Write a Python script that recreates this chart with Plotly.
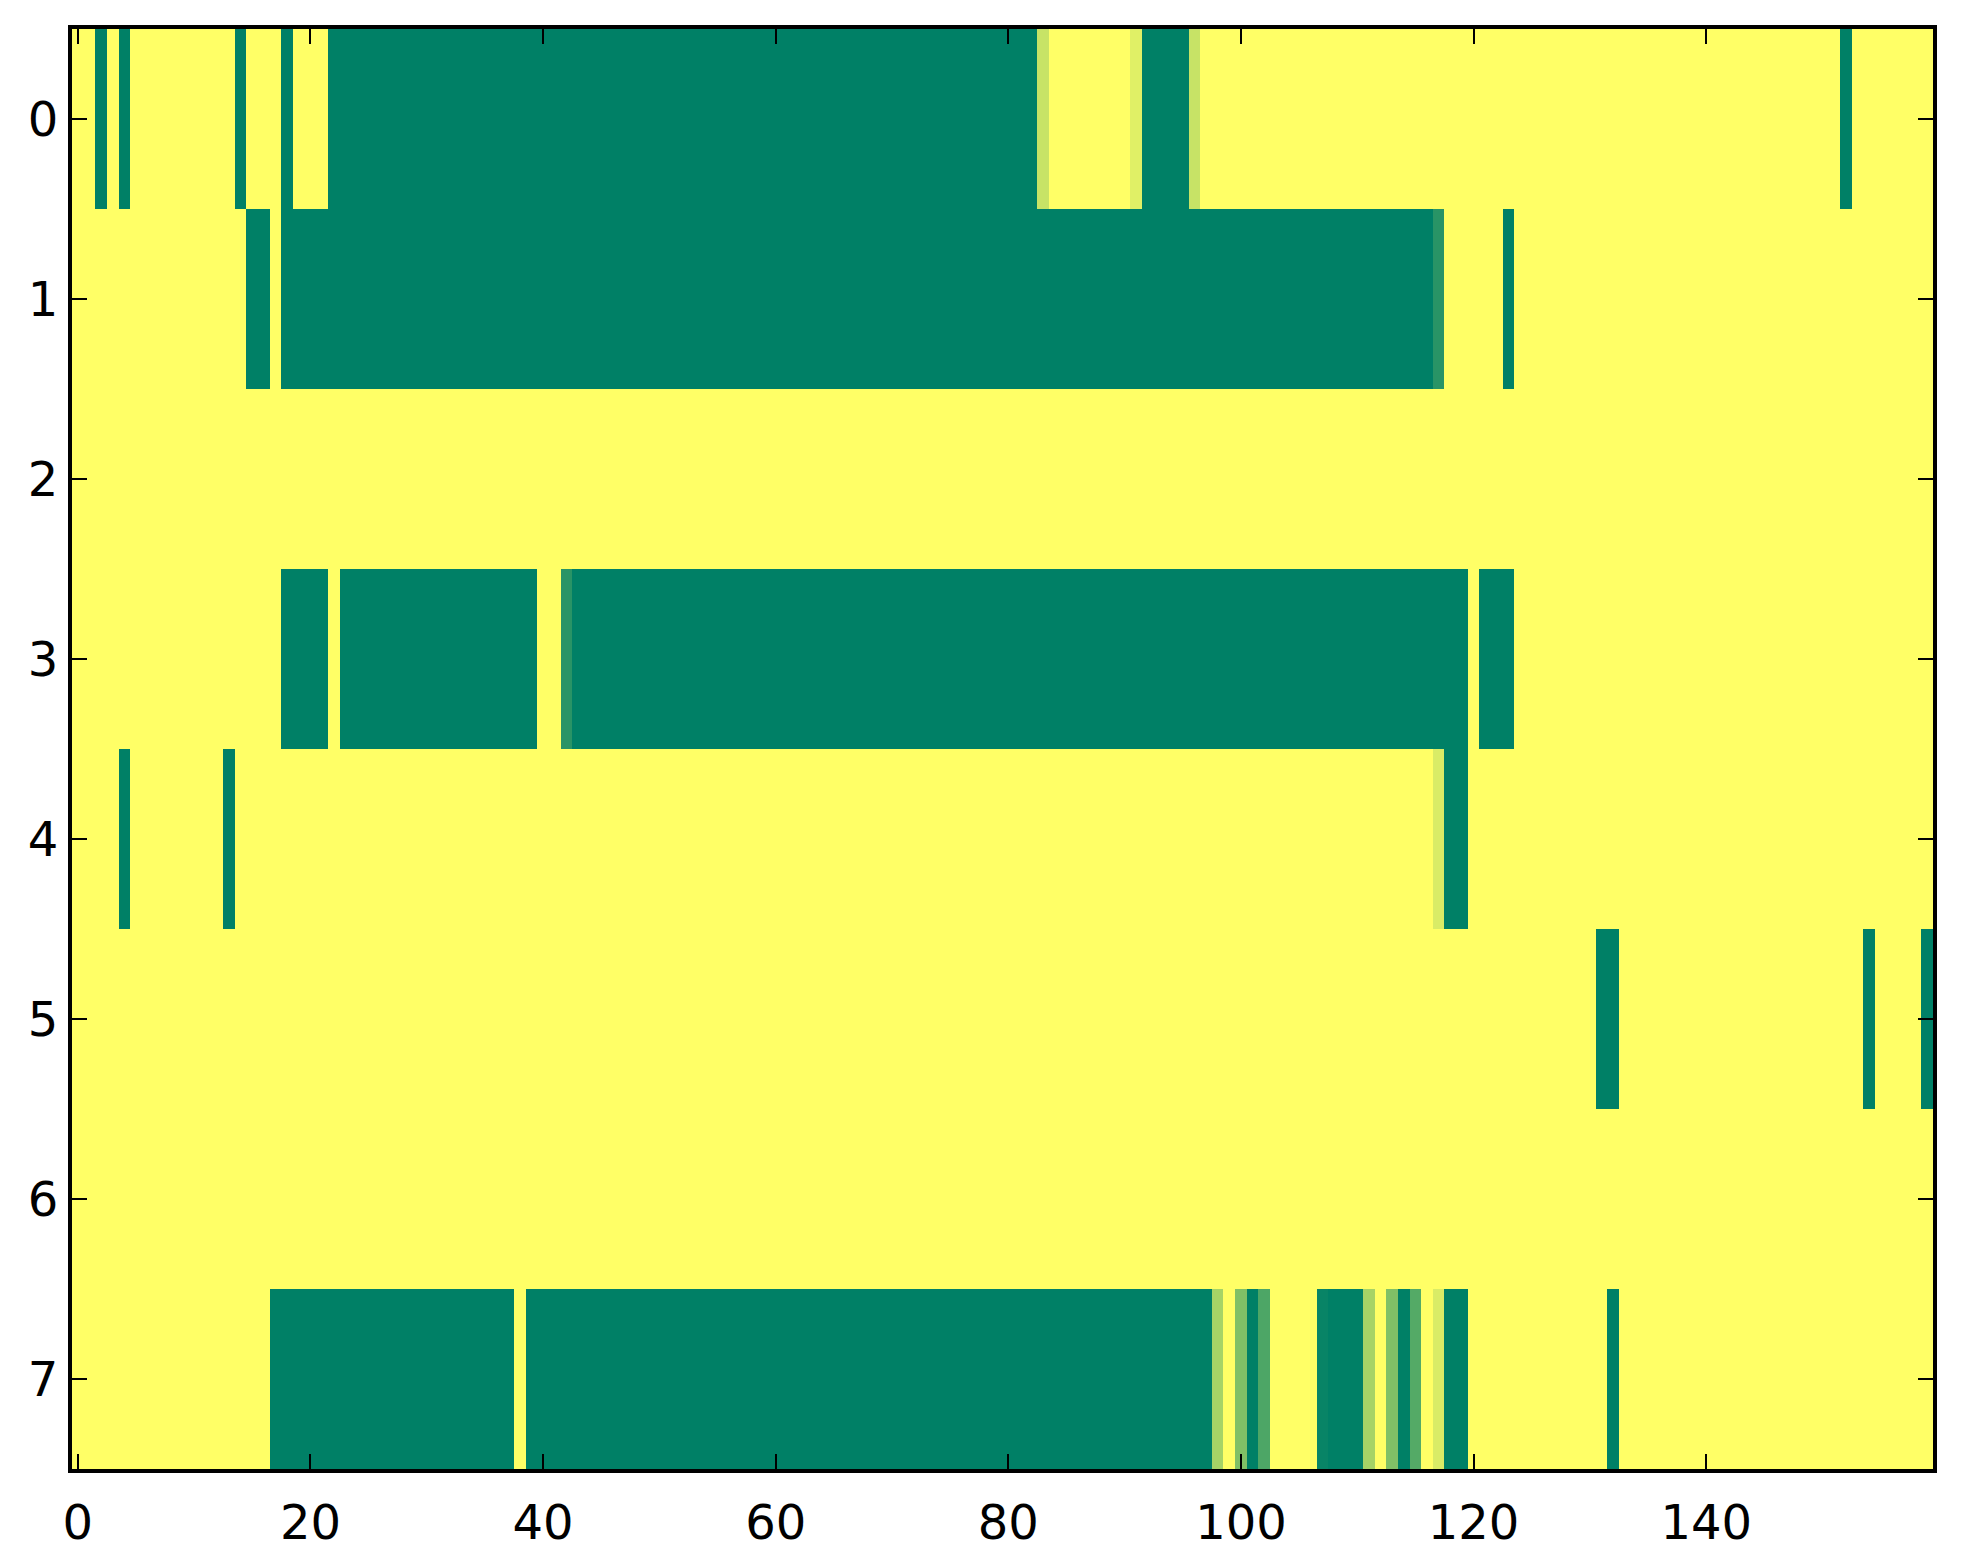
import numpy as np
import plotly.graph_objects as go

n_rows = 8
n_cols = 160
background_value = 1.0

# Non-yellow cells per row: (first_col, last_col, value)
row_0 = [(2, 2, 0.0), (4, 4, 0.0), (14, 14, 0.0), (18, 18, 0.0), (22, 82, 0.0),
         (83, 83, 0.78), (91, 91, 0.88), (92, 95, 0.0), (96, 96, 0.78), (152, 152, 0.0)]
row_1 = [(15, 16, 0.0), (18, 116, 0.0), (117, 117, 0.16), (123, 123, 0.0)]
row_2 = []
row_3 = [(18, 21, 0.0), (23, 39, 0.0), (42, 42, 0.16), (43, 119, 0.0), (121, 123, 0.0)]
row_4 = [(4, 4, 0.0), (13, 13, 0.0), (117, 117, 0.85), (118, 119, 0.0)]
row_5 = [(131, 132, 0.0), (154, 154, 0.0), (159, 159, 0.0)]
row_6 = []
row_7 = [(17, 37, 0.0), (39, 97, 0.0), (98, 98, 0.65), (100, 100, 0.5), (101, 101, 0.0),
         (102, 102, 0.3), (107, 107, 0.03), (108, 110, 0.0), (111, 111, 0.65),
         (113, 113, 0.5), (114, 114, 0.0), (115, 115, 0.33), (117, 117, 0.85),
         (118, 119, 0.0), (132, 132, 0.0)]

rows = [row_0, row_1, row_2, row_3, row_4, row_5, row_6, row_7]

x_ticks = [0, 20, 40, 60, 80, 100, 120, 140]
y_ticks = [0, 1, 2, 3, 4, 5, 6, 7]

z = np.full((n_rows, n_cols), background_value)
for r, runs in enumerate(rows):
    for a, b, v in runs:
        z[r, a:b + 1] = v

summer = [[0.0, "rgb(0,127.5,102)"], [1.0, "rgb(255,255,102)"]]

fig = go.Figure(go.Heatmap(
    z=z, x=list(range(n_cols)), y=list(range(n_rows)),
    colorscale=summer, zmin=0, zmax=1, showscale=False, hoverinfo="skip",
))

font = dict(family="DejaVu Sans", size=48, color="black")
axis_common = dict(
    showline=True, linecolor="black", linewidth=4, mirror="allticks",
    ticks="inside", ticklen=15, tickwidth=1.5, tickcolor="black",
    showgrid=False, zeroline=False, tickfont=font,
)
fig.update_xaxes(range=[-0.5, n_cols - 0.5], tickvals=x_ticks,
                 ticktext=[str(t) for t in x_ticks], ticklabelstandoff=8, **axis_common)
fig.update_yaxes(range=[n_rows - 0.5, -0.5], tickvals=y_ticks,
                 ticktext=[str(t) for t in y_ticks], ticklabelstandoff=0, **axis_common)

fig.update_layout(
    width=1963, height=1564,
    margin=dict(l=64, r=38, t=21, b=103),
    paper_bgcolor="white", plot_bgcolor="white",
)

fig.write_html("out.html")
